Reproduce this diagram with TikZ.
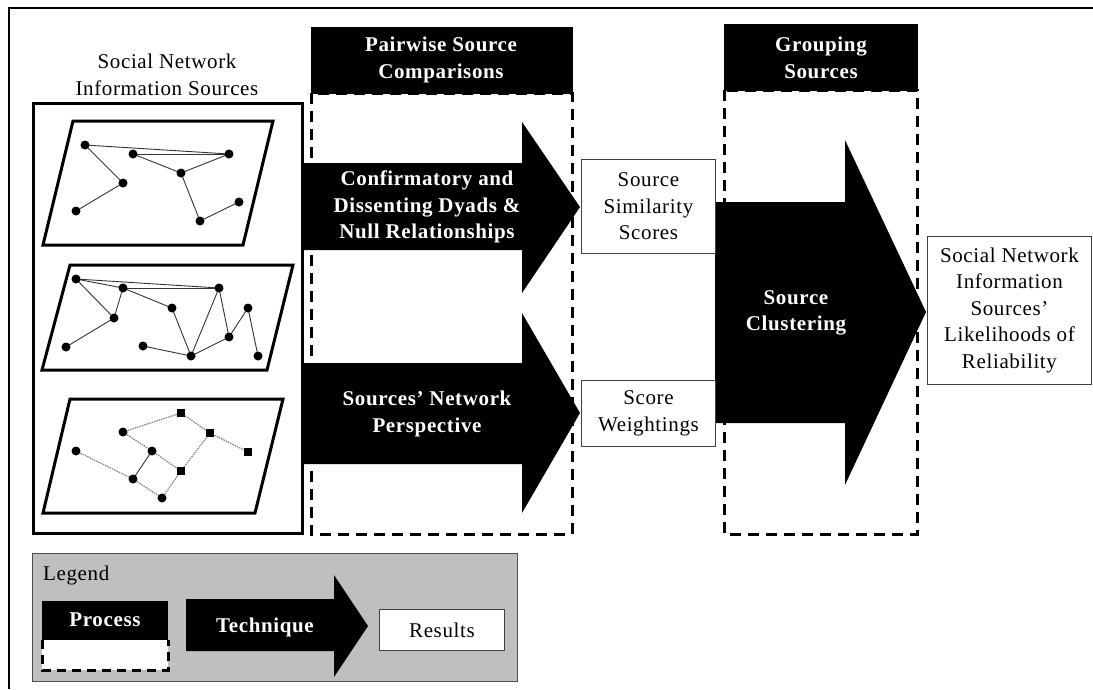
\documentclass[tikz,border=0pt]{standalone}
\usepackage{fontspec}
\setmainfont{Liberation Serif}[LetterSpace=3]
\begin{document}
\begin{tikzpicture}[x=1pt,y=-1pt,
  txt/.style={font=\fontsize{21}{26.5}\selectfont, align=center, inner sep=0pt},
  wtxt/.style={align=center, inner sep=0pt, text=white, font=\fontsize{21}{26.5}\selectfont\bfseries},
  hdr/.style={fill=black, draw=black},
  dbox/.style={draw=black, line width=3pt, dash pattern=on 11pt off 7pt},
  res/.style={draw=black!75, line width=0.9pt, fill=white},
  vtx/.style={circle, fill=black, inner sep=0pt, minimum size=9pt},
  sqv/.style={rectangle, fill=black, inner sep=0pt, minimum size=8pt},
  edg/.style={line width=0.9pt, draw=black!80},
  dedg/.style={line width=1.2pt, draw=black!50, dash pattern=on 1.5pt off 1pt},
  plane/.style={line width=3pt, line join=miter},
]
\useasboundingbox (0,0) rectangle (1093,689);
% outer frame
\draw[line width=2pt] (9,689) -- (9,8) -- (1093,8);

% title
\node[txt] (title) at (167,75) {Social Network\\Information Sources};
% networks box
\draw[line width=3pt] (33,103) rectangle (302,533);

% network 1
\draw[plane] (73,121) -- (273,121) -- (243,245) -- (43,245) -- cycle;
\foreach \n/\p in {a/{85,145},b/{133,154},c/{229,154},d/{181,173},e/{123,183},f/{76,211},g/{200,221},h/{239,202}}
  \coordinate (n1\n) at (\p);
\foreach \u/\v in {a/c,b/c,b/d,d/c,a/e,e/f,d/g,g/h}
  \draw[edg] (n1\u) -- (n1\v);
\foreach \n in {a,b,c,d,e,f,g,h} \node[vtx] at (n1\n) {};

% network 2
\draw[plane] (70,265) -- (293,265) -- (267,370) -- (42,370) -- cycle;
\foreach \n/\p in {a/{76,279},b/{123,288},c/{219,288},d/{172,308},e/{248,308},f/{114,318},g/{229,337},h/{66,347},i/{143,346},j/{191,356},k/{258,356}}
  \coordinate (n2\n) at (\p);
\foreach \u/\v in {a/c,b/c,a/b,a/f,b/f,f/h,b/d,d/j,i/j,j/c,c/g,j/g,g/e,e/k}
  \draw[edg] (n2\u) -- (n2\v);
\foreach \n in {a,b,c,d,e,f,g,h,i,j,k} \node[vtx] at (n2\n) {};

% network 3
\draw[plane] (70,399) -- (283,399) -- (255,513) -- (43,513) -- cycle;
\foreach \n/\p in {p/{123,432},q/{76,451},r/{152,451},s/{133,479},t/{162,498},A/{181,413},B/{210,433},C/{248,452},D/{181,471}}
  \coordinate (n3\n) at (\p);
\foreach \u/\v in {p/A,A/B,B/C,p/r,r/D,q/s,s/t,t/D,D/B}
  \draw[dedg] (n3\u) -- (n3\v);
\draw[edg] (n3r) -- (n3s);
\foreach \n in {p,q,r,s,t} \node[vtx] at (n3\n) {};
\foreach \n in {A,B,C,D} \node[sqv] at (n3\n) {};

% Pairwise process
\draw[dbox] (311,93) rectangle (572,534);
\fill[hdr] (311,27) rectangle (572,93);
\node[wtxt] (pw) at (441,60) {Pairwise Source\\Comparisons};

% Grouping process
\draw[dbox] (724,90) rectangle (917,534);
\fill[hdr] (724,24) rectangle (917,90);
\node[wtxt] (gr) at (821,58) {Grouping\\Sources};

% technique arrows
\fill[black] (303,163) -- (522,163) -- (522,122) -- (580,207) -- (522,293) -- (522,250) -- (303,250) -- cycle;
\node[wtxt] (conf) at (427,207) {Confirmatory and\\Dissenting Dyads \&\\Null Relationships};
\fill[black] (303,363) -- (522,363) -- (522,313) -- (580,413) -- (522,513) -- (522,464) -- (303,464) -- cycle;
\node[wtxt] (persp) at (427,414) {Sources' Network\\Perspective};
\fill[black] (715,202) -- (845,202) -- (845,140) -- (926,312) -- (845,485) -- (845,423) -- (715,423) -- cycle;
\node[wtxt] (clus) at (796,313) {Source\\Clustering};

% results
\node[res, minimum width=134pt, minimum height=94pt, anchor=north west] (sim) at (581,159) {};
\node[txt] at (sim.center) {Source\\Similarity\\Scores};
\node[res, minimum width=134pt, minimum height=66pt, anchor=north west] (wt) at (581,380) {};
\node[txt] at (wt.center) {Score\\Weightings};
\node[res, minimum width=164pt, minimum height=148pt, anchor=north west] (fin) at (927,236) {};
\node[txt] at (fin.center) {Social Network\\Information\\Sources'\\Likelihoods of\\Reliability};

% legend
\node[draw=black!70, line width=0.9pt, fill=black!25, minimum width=485pt, minimum height=128pt, anchor=north west] (leg) at (32,553) {};
\node[txt, anchor=west] (legt) at (43,575) {Legend};
\fill[white] (42,640) rectangle (168,670);
\draw[dbox, dash pattern=on 9pt off 6pt] (42,640) -- (42,670) -- (168,670) -- (168,640);
\fill[black] (42,601) rectangle (168,640);
\node[wtxt] (lproc) at (105,620) {Process};
\fill[black] (186,599) -- (334,599) -- (334,575) -- (368,626) -- (334,677) -- (334,651) -- (186,651) -- cycle;
\node[wtxt] (ltech) at (265,627) {Technique};
\node[res, minimum width=125pt, minimum height=41pt, anchor=north west] (lres) at (379,609) {};
\node[txt] at (lres.center) {Results};
\end{tikzpicture}
\end{document}
